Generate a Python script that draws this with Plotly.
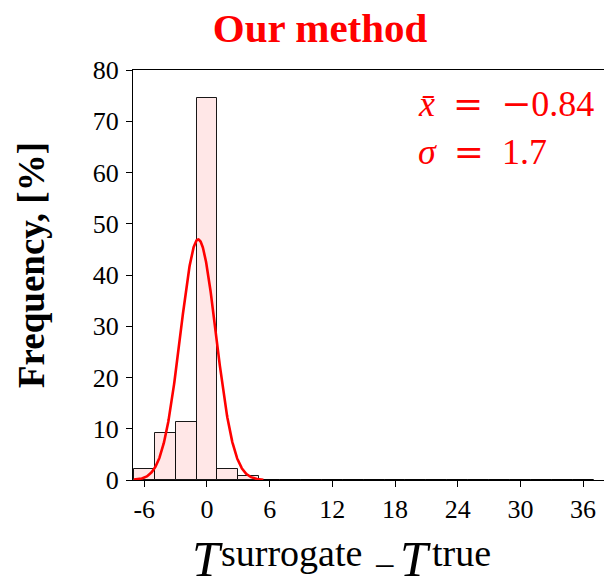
import numpy as np
import plotly.graph_objects as go

# Histogram of T_surrogate - T_true, bins of width 2 (percent of samples)
bin_centers = [-6, -4, -2, 0, 2, 4, 6, 8, 10, 12, 14, 16, 18, 20, 22, 24,
               26, 28, 30, 32, 34, 36]
freq_pct = [2.1, 9.2, 11.4, 74.5, 2.1, 0.8, 0, 0, 0, 0, 0, 0, 0, 0, 0, 0,
            0, 0, 0, 0, 0, 0]
bin_width = 2

# Fitted normal distribution (stats shown in the panel)
mean_val = -0.84
sigma_val = 1.7
fit_range = [-7.0, 5.4]

x_ticks = [-6, 0, 6, 12, 18, 24, 30, 36]
y_ticks = [0, 10, 20, 30, 40, 50, 60, 70, 80]

xs = np.linspace(fit_range[0], fit_range[1], 400)
ys = 100 * bin_width * np.exp(-0.5 * ((xs - mean_val) / sigma_val) ** 2) / (sigma_val * np.sqrt(2 * np.pi))

SERIF = "Liberation Serif, Times New Roman, serif"
SYM = '<span style="font-family:DejaVu Serif">{}</span>'

# plot area in pixels: left 133, top 70, width 471, height 410
L, T, W, H = 133, 70, 471, 410


def px(xp):
    return (xp - L) / W


def py(yp):
    return (T + H - yp) / H


fig = go.Figure()
fig.add_trace(go.Bar(
    x=bin_centers, y=freq_pct, width=bin_width,
    marker=dict(color="rgb(255,231,231)", line=dict(color="rgba(0,0,0,0.9)", width=1)),
    showlegend=False, hoverinfo="skip",
))
fig.add_trace(go.Scatter(
    x=xs, y=ys, mode="lines", line=dict(color="red", width=2.6),
    showlegend=False, hoverinfo="skip", cliponaxis=False,
))

stat1 = "<i>x\u0304</i>  " + SYM.format("=") + "  " + SYM.format("\u2212") + f"{abs(mean_val):.2f}"
stat2 = "<i>\u03c3</i>  " + SYM.format("=") + f"  {sigma_val}"


def note(text, x, y, size, xanchor="left", yanchor="top", color="black", **kw):
    return dict(text=text, xref="paper", x=px(x), xanchor=xanchor,
                yref="paper", y=py(y), yanchor=yanchor, showarrow=False,
                font=dict(family=SERIF, size=size, color=color), **kw)


# x-axis label T^surrogate − T^true, set piece by piece
xlabel_parts = [
    note("<i>T</i>", 190, 529, 50),
    note("surrogate", 219, 530, 38),
    note("\u2212", 372, 543, 38),
    note("<i>T</i>", 398, 529, 50),
    note("true", 430, 530, 38),
]

fig.update_layout(
    width=604, height=576,
    margin=dict(l=L, r=0, t=T, b=576 - T - H),
    paper_bgcolor="white", plot_bgcolor="white",
    bargap=0,
    font=dict(family=SERIF, color="black"),
    title=dict(text="<b>Our method</b>", font=dict(family=SERIF, size=41, color="red"),
               xref="container", x=0.53, xanchor="center",
               yref="container", y=1 - 28 / 576, yanchor="middle"),
    xaxis=dict(range=[-7.08, 38.0], tickvals=x_ticks, ticktext=[str(v) for v in x_ticks],
               ticks="outside", ticklen=6, tickcolor="black", tickwidth=1,
               showline=True, linecolor="black", linewidth=1, mirror=True,
               showgrid=False, zeroline=False,
               tickfont=dict(family=SERIF, size=26, color="black")),
    yaxis=dict(range=[0, 80], tickvals=y_ticks,
               ticks="outside", ticklen=6, tickcolor="black", tickwidth=1,
               showline=True, linecolor="black", linewidth=1,
               showgrid=False, zeroline=False, ticklabelstandoff=2,
               tickfont=dict(family=SERIF, size=26, color="black")),
    annotations=[
        note("<b>Frequency, [%]</b>", 31, 265, 37, xanchor="center", yanchor="middle",
             textangle=-90),
        note(stat1, 416, 104, 36, yanchor="middle", color="red"),
        note(stat2, 416, 151, 36, yanchor="middle", color="red"),
    ] + xlabel_parts,
)

fig.write_html("out.html")
